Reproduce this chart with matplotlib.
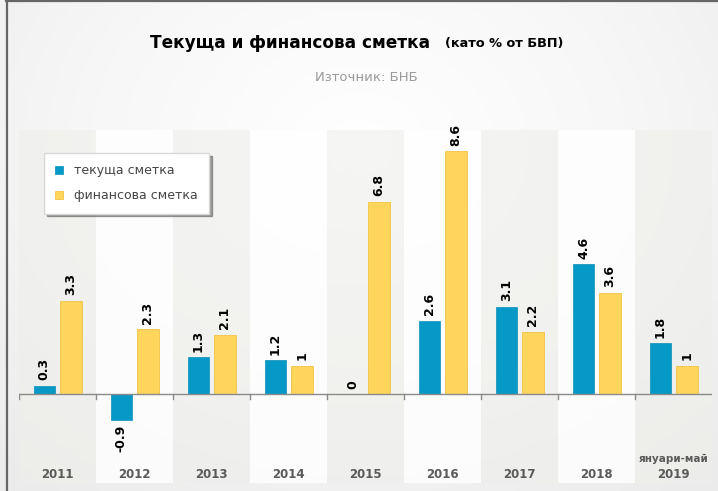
import matplotlib.pyplot as plt
import numpy as np
from matplotlib.lines import Line2D
from matplotlib.colors import LinearSegmentedColormap

plt.rcParams['font.family'] = ['DejaVu Sans']

# данни (като % от БВП)
years = ['2011', '2012', '2013', '2014', '2015', '2016', '2017', '2018', '2019']
tekushta = [0.3, -0.9, 1.3, 1.2, 0, 2.6, 3.1, 4.6, 1.8]
finansova = [3.3, 2.3, 2.1, 1, 6.8, 8.6, 2.2, 3.6, 1]
labels_t = ['0.3', '-0.9', '1.3', '1.2', '0', '2.6', '3.1', '4.6', '1.8']
labels_f = ['3.3', '2.3', '2.1', '1', '6.8', '8.6', '2.2', '3.6', '1']

blue = '#0698c6'
yellow = '#ffd55c'

fig = plt.figure(figsize=(7.18, 4.91), dpi=100)

# фон - радиален градиент
bg = fig.add_axes([0, 0, 1, 1], zorder=-10)
gx, gy = np.meshgrid(np.linspace(0, 1, 300), np.linspace(0, 1, 200))
r = np.sqrt(((gx - 0.5) / 0.75) ** 2 + ((gy - 0.3) / 0.9) ** 2)
cm = LinearSegmentedColormap.from_list('g', ['#ffffff', '#f7f7f7', '#ebebeb'])
bg.imshow(np.clip(r, 0, 1), cmap=cm, vmin=0, vmax=1, aspect='auto', extent=[0, 1, 1, 0])
bg.set_xlim(0, 1)
bg.set_ylim(1, 0)
bg.set_axis_off()

ax = fig.add_axes([0.0265, 0.016, 0.9655, 0.719])
ax.patch.set_alpha(0)
x = np.arange(len(years))

# редуващи се ленти
for i in range(len(years)):
    if i % 2 == 0:
        ax.axvspan(i - 0.5, i + 0.5, color='#eeeeea', alpha=0.55, zorder=0, lw=0)
    else:
        ax.axvspan(i - 0.5, i + 0.5, color='#ffffff', alpha=0.8, zorder=0, lw=0)

w = 0.28
off = 0.172
ax.bar(x - off, tekushta, w, color=blue, edgecolor='#0a8fb8', lw=0.5, zorder=3,
       label='текуща сметка')
ax.bar(x + off, finansova, w, color=yellow, edgecolor='#f2c445', lw=0.6, zorder=3,
       label='финансова сметка')

for i in range(len(years)):
    v = tekushta[i]
    if v >= 0:
        ax.text(x[i] - off, v + 0.2, labels_t[i], rotation=90, ha='center', va='bottom',
                fontsize=9, fontweight='bold', zorder=4)
    else:
        ax.text(x[i] - off, v - 0.2, labels_t[i], rotation=90, ha='center', va='top',
                fontsize=9, fontweight='bold', zorder=4)
    ax.text(x[i] + off, finansova[i] + 0.2, labels_f[i], rotation=90, ha='center', va='bottom',
            fontsize=9, fontweight='bold', zorder=4)

ax.set_xlim(-0.5, len(years) - 0.5)
ax.set_ylim(-3.15, 9.35)
ax.axhline(0, color='#8a8a8a', lw=1, zorder=5)
for i in range(len(years)):
    ax.plot([i - 0.5, i - 0.5], [0, -0.18], color='#8a8a8a', lw=1, zorder=5)

for s in ax.spines.values():
    s.set_visible(False)
ax.set_xticks([])
ax.set_yticks([])

for i, y in enumerate(years):
    ax.text(x[i], -2.85, y, ha='center', va='center', fontsize=8.5, fontweight='bold',
            color='#5a5a5a')
ax.text(x[-1], -2.28, 'януари-май', ha='center', va='center', fontsize=7.5, fontweight='bold',
        color='#5a5a5a')

leg = fig.legend(loc='upper left', bbox_to_anchor=(0.061, 0.688), frameon=True, fancybox=False,
                 shadow=True, fontsize=9, handlelength=0.6, handleheight=0.6,
                 borderpad=0.9, labelspacing=0.95, handletextpad=0.9, borderaxespad=0)
leg.get_frame().set_edgecolor('#d8d8d8')
for t in leg.get_texts():
    t.set_color('#444444')

fig.text(0.599, 0.912, 'Текуща и финансова сметка', ha='right', va='center', fontsize=12.2,
         fontweight='bold')
fig.text(0.62, 0.912, '(като % от БВП)', ha='left', va='center', fontsize=9.3, fontweight='bold')
fig.text(0.51, 0.843, 'Източник: БНБ', ha='center', va='center', fontsize=9.5, color='#9a9a9a')

# рамка - само отляво и отгоре
fig.lines.append(Line2D([0.0092, 0.0092], [0, 0.997], transform=fig.transFigure,
                        color='#666666', lw=1.6))
fig.lines.append(Line2D([0.008, 1], [0.997, 0.997], transform=fig.transFigure,
                        color='#666666', lw=1.6))

fig.savefig('out.png', dpi=100)
